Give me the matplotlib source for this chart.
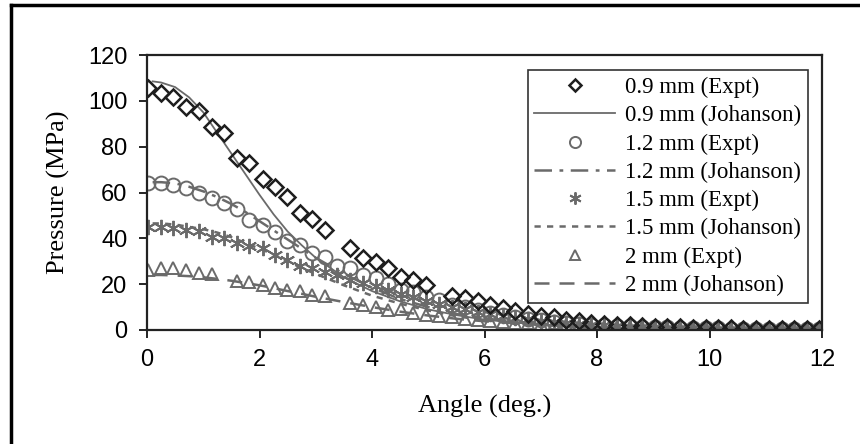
import numpy as np
import matplotlib.pyplot as plt
from matplotlib.lines import Line2D

nan = np.nan

# measured points (same angle grid for all four sizes)
angle_expt = [0.02, 0.25, 0.47, 0.69, 0.93, 1.15, 1.37, 1.6, 1.82, 2.06, 2.28, 2.49, 2.72, 2.94,
              3.16, 3.38, 3.6, 3.84, 4.07, 4.29, 4.52, 4.73, 4.96, 5.19, 5.42, 5.65, 5.88, 6.1,
              6.33, 6.55, 6.78, 7.0, 7.23, 7.45, 7.68, 7.9, 8.13, 8.35, 8.58, 8.8, 9.03, 9.25,
              9.48, 9.7, 9.93, 10.15, 10.38, 10.6, 10.83, 11.05, 11.28, 11.5, 11.73, 11.95]

p09_expt = [105.5, 103.5, 101.7, 97.4, 95.6, 88.6, 86, 75, 73, 66, 62.4, 58, 51, 48.5, 43.7, nan,
            35.8, 31.4, 29.7, 27, 23, 22, 19.7, nan, 15, 14, 12.5, 11, 9.5, 8.5, 7, 6, 5.5, 4.5,
            4, 3.2, 2.7, 2.3, 2, 1.7, 1.5, 1.3, 1.2, 1, 0.9, 0.8, 0.7, 0.6, 0.6, 0.5, 0.5, 0.4,
            0.4, 0.4]
p12_expt = [64, 64, 63.3, 62, 60, 57.6, 55.4, 53, 48, 45.8, 42.8, 39, 37, 33.6, 32, 28, 27, 24,
            22.7, 20, 17.5, 16.6, 14.5, 13, 11, 10, 8.7, 7.5, 6.5, 5.7, 5, 4.3, 3.7, 3.2, 2.8,
            2.4, 2.1, 1.8, 1.6, 1.4, 1.2, 1.1, 1, 0.9, 0.8, 0.7, 0.6, 0.6, 0.5, 0.5, 0.4, 0.4,
            0.4, 0.3]
p15_expt = [45, 45, 44.5, 43.7, 43, 40.6, 40, 38, 36.5, 35.6, 32.7, 30.6, 28, 27, 25.5, 24, 22,
            20.5, 19, 17.5, 15.5, 14.5, 12.5, 11.5, 10, 9, 8, 7, 6, 5.3, 4.6, 4, 3.5, 3, 2.6,
            2.3, 2, 1.7, 1.5, 1.3, 1.1, 1, 0.9, 0.8, 0.7, 0.6, 0.6, 0.5, 0.5, 0.4, 0.4, 0.4,
            0.3, 0.3]
p20_expt = [26, 27, 27, 26, 25, 24.5, nan, 21.4, 21, 19.7, 18.3, 17.5, 17, 15.3, 15, nan, 11.8,
            11, 10, 8.7, 9, 7.4, 6.6, 6, 5.5, 5, 4.5, 4, 3.6, 3.2, 2.9, 2.6, 2.3, 2.1, 1.9, 1.7,
            1.5, 1.3, 1.2, 1.1, 1, 0.9, 0.8, 0.7, 0.7, 0.6, 0.5, 0.5, 0.5, 0.4, 0.4, 0.4, 0.3,
            0.3]

# Johanson model curves
angle_model = [0.1, 0.25, 0.5, 0.75, 1.0, 1.25, 1.5, 1.75, 2.0, 2.25, 2.5, 2.75, 3.0, 3.5, 4.0,
               4.5, 5.0, 5.5, 6.0, 7.0, 8.0, 9.0, 10.0, 11.0, 12.0]
p09_model = [108.5, 108, 106, 101.5, 95, 86, 77, 68, 59, 50.5, 43, 37, 31.5, 23, 17, 12.5, 9,
             6.5, 4.5, 2.2, 1.0, 0.5, 0.25, 0.15, 0.1]
p12_model = [64.5, 64.5, 64, 62.5, 60.5, 58, 55, 51.5, 47.5, 43.5, 39.5, 35.5, 31.5, 24.5, 18.5,
             13.5, 10, 7, 5, 2.5, 1.2, 0.6, 0.3, 0.2, 0.1]
p15_model = [46.5, 46.5, 46, 45, 44, 42.5, 40.5, 38, 35.5, 33, 30, 27, 24.5, 19.5, 15, 11.5, 8.5,
             6, 4.3, 2.2, 1.1, 0.6, 0.3, 0.2, 0.1]
p20_model = [24, 24, 23.8, 23.5, 23, 22.3, 21.5, 20.5, 19.5, 18.3, 17, 15.8, 14.5, 12.2, 10, 8,
             6.3, 4.9, 3.8, 2.2, 1.2, 0.6, 0.3, 0.2, 0.1]

x_ticks = [0, 2, 4, 6, 8, 10, 12]
y_ticks = [0, 20, 40, 60, 80, 100, 120]

gray = '#6a6a6a'
dark = '#1e1e1e'
serif = ['Liberation Serif', 'DejaVu Serif']
sans = ['Liberation Sans', 'DejaVu Sans']

fig = plt.figure(figsize=(8.6, 4.44), dpi=100)
ax = fig.add_axes([147 / 860, 1 - 330 / 444, 675 / 860, 275 / 444])

# model lines first, markers on top
ax.plot(angle_model, p09_model, color=gray, lw=1.3, ls='-', label='0.9 mm (Johanson)')
ax.plot(angle_model, p12_model, color=gray, lw=1.8, ls=(0, (7, 3, 1.5, 3)), label='1.2 mm (Johanson)')
ax.plot(angle_model, p15_model, color=gray, lw=1.8, ls=(0, (2.5, 2.5)), label='1.5 mm (Johanson)')
ax.plot(angle_model, p20_model, color=gray, lw=1.8, ls=(0, (6, 4)), label='2 mm (Johanson)')

ax.plot(angle_expt, p20_expt, ls='none', marker='^', ms=9, mfc='none', mec=gray, mew=1.4,
        label='2 mm (Expt)')
ax.plot(angle_expt, p15_expt, ls='none', marker=(6, 2, 0), ms=11, mec=gray, mew=1.4,
        label='1.5 mm (Expt)')
ax.plot(angle_expt, p12_expt, ls='none', marker='o', ms=10, mfc='none', mec=gray, mew=1.4,
        label='1.2 mm (Expt)')
ax.plot(angle_expt, p09_expt, ls='none', marker='D', ms=8, mfc='none', mec=dark, mew=1.8,
        label='0.9 mm (Expt)')

ax.set_xlim(0, 12)
ax.set_ylim(0, 120)
ax.set_xticks(x_ticks)
ax.set_yticks(y_ticks)
ax.tick_params(direction='out', length=6, width=1.2, pad=8, labelsize=17, colors='black')
for lab in ax.get_xticklabels() + ax.get_yticklabels():
    lab.set_family(sans)
for s in ax.spines.values():
    s.set_linewidth(1.6)
    s.set_color('#222222')

ax.set_xlabel('Angle (deg.)', family=serif, fontsize=19, labelpad=17)
ax.set_ylabel('Pressure (MPa)', family=serif, fontsize=19, labelpad=13)

h, l = ax.get_legend_handles_labels()
order = ['0.9 mm (Expt)', '0.9 mm (Johanson)', '1.2 mm (Expt)', '1.2 mm (Johanson)',
         '1.5 mm (Expt)', '1.5 mm (Johanson)', '2 mm (Expt)', '2 mm (Johanson)']
hd = dict(zip(l, h))
leg = ax.legend([hd[k] for k in order], order, loc='upper right',
                bbox_to_anchor=(808 / 860, 1 - 70 / 444), bbox_transform=fig.transFigure,
                prop={'family': serif, 'size': 16.5}, frameon=True, fancybox=False,
                edgecolor='black', handlelength=3.5, handletextpad=0.45, labelspacing=0.31,
                borderpad=0.3, borderaxespad=0, markerscale=0.8)
leg.get_frame().set_linewidth(1.2)

# outer border of the figure (cut at right and bottom)
fig.add_artist(Line2D([11 / 860, 11 / 860], [0, 1 - 5 / 444], color='black', lw=2.5,
                      transform=fig.transFigure))
fig.add_artist(Line2D([11 / 860, 1], [1 - 5 / 444, 1 - 5 / 444], color='black', lw=2.5,
                      transform=fig.transFigure))

fig.savefig('out.png', dpi=100)
